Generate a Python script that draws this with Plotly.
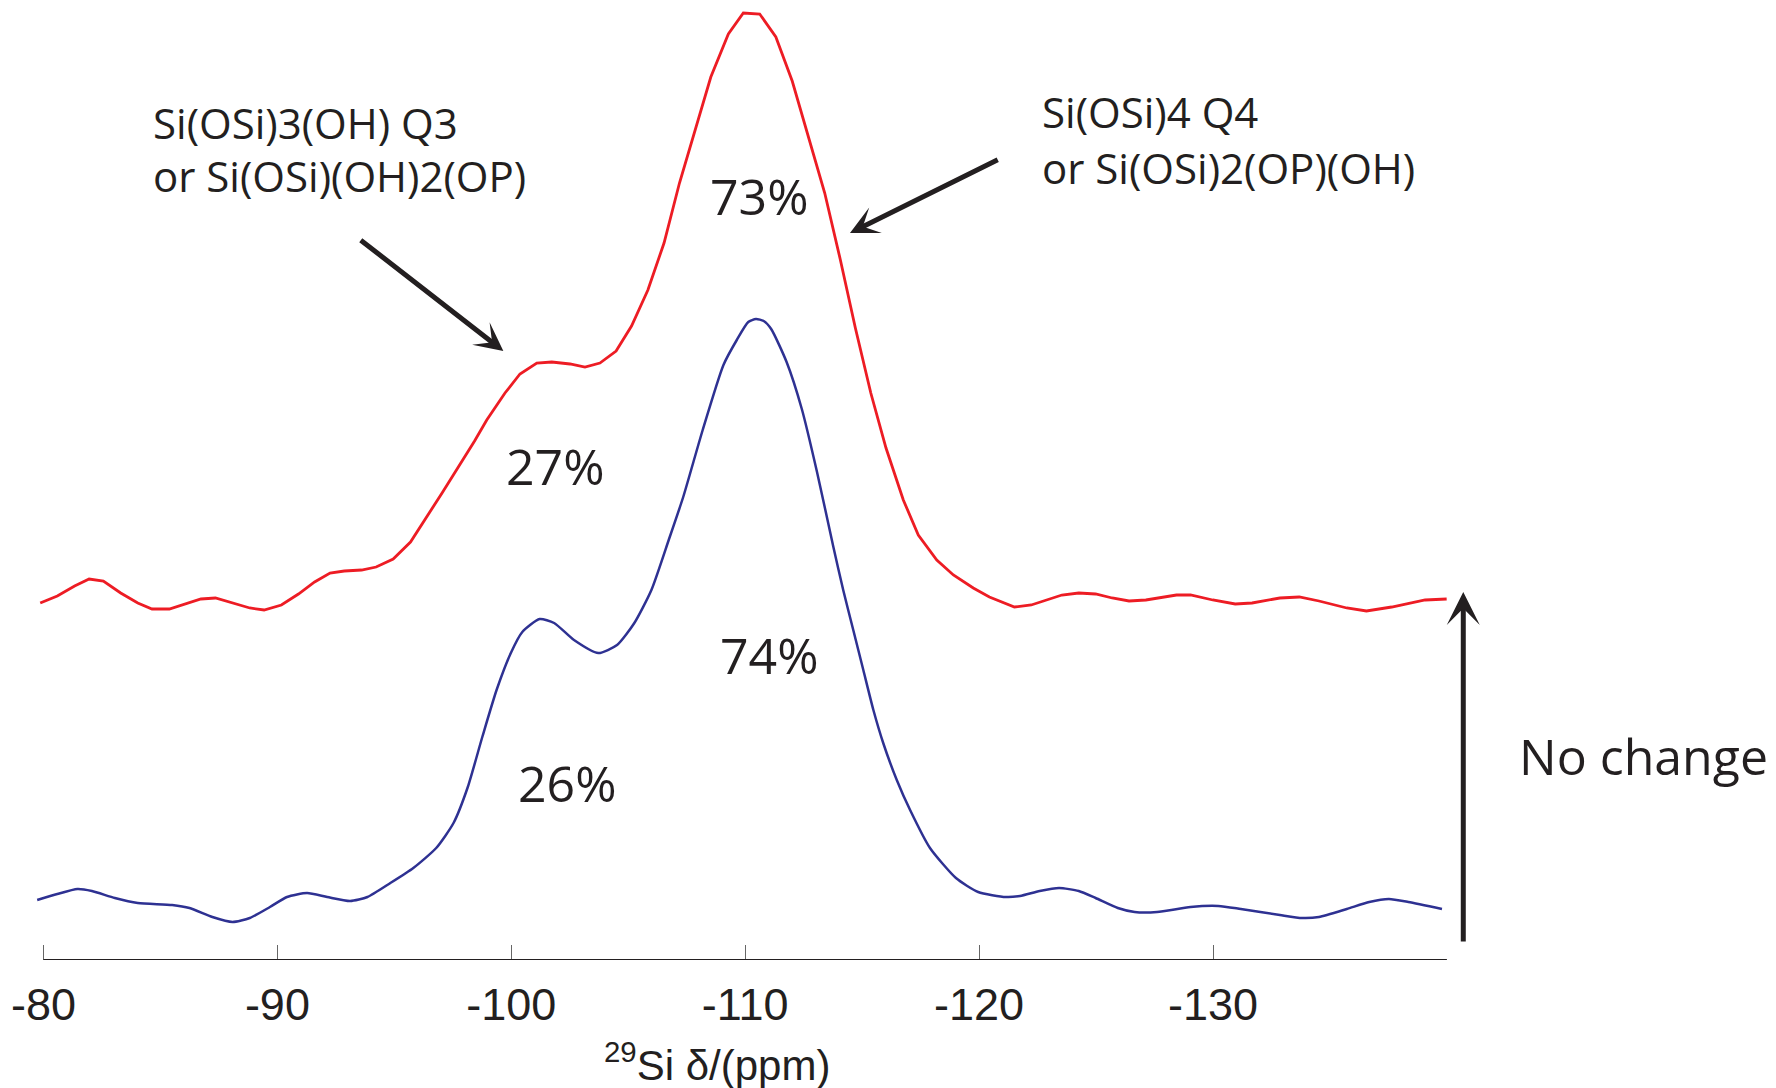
import plotly.graph_objects as go

# 29Si chemical shift (ppm) and intensity (a.u.)
blue_ppm = [-79.73, -80.59, -81.45, -82.07, -83.05, -84.03, -85.50, -86.24, -87.22, -88.08,
            -88.82, -89.68, -90.41, -91.27, -92.13, -93.11, -93.85, -94.83, -95.81, -96.79,
            -97.53, -98.14, -98.76, -99.37, -99.98, -100.47, -101.21, -101.83, -102.68, -103.72,
            -104.52, -105.26, -105.99, -106.73, -107.35, -108.17, -109.07, -109.64, -110.13, -110.46,
            -110.79, -111.11, -111.77, -112.42, -113.07, -113.77, -114.19, -114.62, -115.05, -115.48,
            -115.90, -116.48, -117.05, -117.90, -119.01, -119.96, -121.15, -121.75, -122.59, -123.42,
            -124.26, -124.98, -125.93, -126.65, -127.61, -129.04, -130.23, -131.19, -132.86, -133.81,
            -134.53, -135.72, -136.68, -137.52, -138.35, -139.79]
blue_int = [60, 66, 71, 69, 62, 57, 55, 52, 43, 38,
            42, 53, 63, 67, 63, 59, 63, 77, 92, 112,
            137, 173, 223, 270, 307, 328, 341, 337, 320, 307,
            315, 337, 370, 420, 463, 529, 595, 620, 638, 641,
            639, 631, 598, 551, 488, 413, 370, 330, 290, 250,
            217, 180, 150, 112, 82, 68, 63, 64, 69, 72,
            69, 62, 52, 48, 48, 53, 54, 51, 45, 42,
            43, 51, 58, 61, 58, 51]

red_ppm = [-79.86, -80.59, -81.33, -81.95, -82.56, -83.30, -84.03, -84.64, -85.38, -86.73,
           -87.35, -88.08, -88.82, -89.43, -90.17, -90.90, -91.59, -92.25, -92.86, -93.60,
           -94.22, -94.95, -95.69, -97.04, -98.43, -98.95, -99.73, -100.37, -101.09, -101.73,
           -102.51, -103.15, -103.79, -104.48, -105.14, -105.84, -106.53, -107.19, -107.84, -108.53,
           -109.28, -109.92, -110.62, -111.31, -112.01, -112.67, -113.40, -114.06, -114.71, -115.37,
           -116.02, -116.76, -117.40, -118.19, -118.90, -119.75, -120.44, -121.51, -122.23, -123.54,
           -124.26, -124.98, -125.69, -126.41, -127.13, -128.44, -129.04, -129.99, -130.95, -131.67,
           -132.86, -133.69, -134.53, -135.72, -136.56, -137.64, -139.07, -139.99]
red_int = [357, 364, 374, 381, 379, 367, 357, 351, 351, 361,
           362, 357, 352, 350, 355, 366, 378, 387, 389, 390,
           393, 401, 418, 467, 519, 540, 567, 586, 597, 598,
           596, 593, 597, 609, 634, 670, 717, 777, 829, 883,
           926, 947, 946, 923, 879, 827, 767, 701, 632, 567,
           512, 460, 425, 400, 385, 372, 363, 353, 355, 365,
           367, 366, 362, 359, 360, 365, 365, 360, 356, 357,
           362, 363, 359, 352, 349, 353, 360, 361]

tick_vals = [-80, -90, -100, -110, -120, -130]
tick_text = ["-80", "-90", "-100", "-110", "-120", "-130"]

BLUE = "#2e3192"
RED = "#ed1c24"
INK = "#231f20"
TEXT_FONT = "Open Sans, Noto Sans, sans-serif"
AXIS_FONT = "Liberation Sans Narrow, Liberation Sans, Arial, sans-serif"

fig = go.Figure()
fig.add_trace(go.Scatter(x=blue_ppm, y=blue_int, mode="lines",
                         line=dict(color=BLUE, width=2.5, shape="spline", smoothing=0.6),
                         showlegend=False, hoverinfo="skip"))
fig.add_trace(go.Scatter(x=red_ppm, y=red_int, mode="lines",
                         line=dict(color=RED, width=2.8),
                         showlegend=False, hoverinfo="skip"))

ann = []
def txt(x, y, s, size, xanchor="center"):
    ann.append(dict(x=x, y=y, xref="x", yref="y", text=s, showarrow=False,
                    xanchor=xanchor, yanchor="middle",
                    font=dict(family=TEXT_FONT, size=size, color=INK)))

txt(-101.91, 494, "27%", 50)
txt(-110.63, 764, "73%", 50)
txt(-111.02, 305, "74%", 50)
txt(-102.42, 177, "26%", 50)
txt(-142.99, 204, "No change", 50, "left")
txt(-84.58, 838, "Si(OSi)3(OH) Q3", 42, "left")
txt(-84.58, 785, "or Si(OSi)(OH)2(OP)", 42, "left")
txt(-122.60, 849, "Si(OSi)4 Q4", 42, "left")
txt(-122.60, 793, "or Si(OSi)2(OP)(OH)", 42, "left")

def arrow(x, y, ax, ay, size):
    ann.append(dict(x=x, y=y, ax=ax, ay=ay, xref="x", yref="y", axref="x", ayref="y",
                    text="", showarrow=True, arrowhead=3, arrowsize=size, arrowwidth=5,
                    arrowcolor=INK, standoff=0, startstandoff=0))

arrow(-99.66, 609, -93.50, 721, 0.95)
arrow(-114.48, 727, -120.86, 801, 0.95)
arrow(-140.70, 368, -140.70, 17, 1.1)

# axis title
ann.append(dict(x=-108.79, y=-0.106, xref="x", yref="paper", showarrow=False,
                text="<sup>29</sup>Si δ/(ppm)", xanchor="center", yanchor="middle",
                font=dict(family=AXIS_FONT, size=42, color=INK)))

fig.update_layout(
    width=1776, height=1088,
    margin=dict(l=0, r=0, t=0, b=128),
    paper_bgcolor="white", plot_bgcolor="white",
    annotations=ann,
    shapes=[dict(type="line", xref="x", yref="y", x0=-80, x1=-140, y0=0, y1=0,
                 line=dict(color=INK, width=2))],
    xaxis=dict(range=[-78.14, -154.07], showgrid=False, zeroline=False, showline=False,
               tickmode="array", tickvals=tick_vals, ticktext=tick_text,
               ticks="inside", ticklen=15, tickwidth=1, tickcolor="#666",
               ticklabelstandoff=14,
               tickfont=dict(family=AXIS_FONT, size=45, color=INK)),
    yaxis=dict(range=[0, 960], visible=False, showgrid=False, zeroline=False),
)

fig.write_html("out.html")
